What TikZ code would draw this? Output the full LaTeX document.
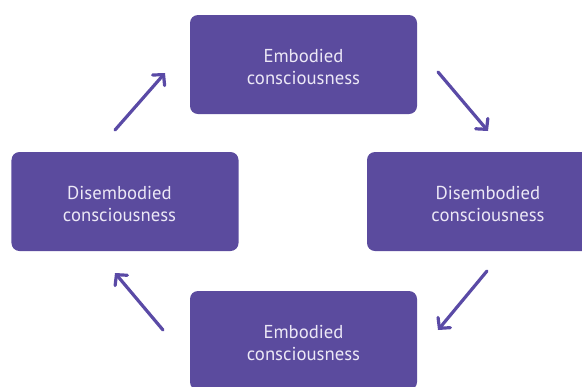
\documentclass[tikz,border=0pt]{standalone}
\usepackage{fontspec}
\setmainfont{PT Sans}
\usetikzlibrary{arrows.meta}
\definecolor{boxfill}{HTML}{5B4B9E}
\definecolor{arrowcol}{HTML}{5A4AA6}
\definecolor{boxtext}{HTML}{ECE8F6}
\tikzset{
  stagebox/.style={draw=none, fill=boxfill, rounded corners=8bp,
    minimum width=227bp, minimum height=99bp, inner sep=0pt},
  stagetext/.style={text=boxtext, align=center, font=\fontsize{18.7bp}{22.5bp}\selectfont, inner sep=0pt},
  cyclearrow/.style={draw=arrowcol, line width=3.2bp, line cap=round,
    -{Straight Barb[length=7.5bp,width=16bp,line cap=round]}}
}
\begin{document}
\begin{tikzpicture}[x=1bp, y=-1bp]
  \useasboundingbox (0,0) rectangle (582,386);
  \clip (0,0) rectangle (582,386);
  % the four stages of the cycle
  \node[stagebox] (top)    at (303.5,64.5)  {};
  \node[stagebox] (left)   at (125,201.5)   {};
  \node[stagebox] (right)  at (480.5,201.5) {};
  \node[stagebox] (bottom) at (303.5,340.5) {};
  \node[stagetext] (toptext)    at (303.5,67)  {Embodied\\consciousness};
  \node[stagetext] (lefttext)   at (119.5,204) {Disembodied\\consciousness};
  \node[stagetext] (righttext)  at (488,204)   {Disembodied\\consciousness};
  \node[stagetext] (bottomtext) at (303.5,343) {Embodied\\consciousness};
  % arrow end points between the stages
  \coordinate (ul0) at (115,130); \coordinate (ul1) at (165,73);
  \coordinate (ur0) at (438,72);  \coordinate (ur1) at (488,131);
  \coordinate (lr0) at (487,271); \coordinate (lr1) at (438,330);
  \coordinate (ll0) at (163,330); \coordinate (ll1) at (115,273);
  \draw[cyclearrow] (ul0) -- (ul1);
  \draw[cyclearrow] (ur0) -- (ur1);
  \draw[cyclearrow] (lr0) -- (lr1);
  \draw[cyclearrow] (ll0) -- (ll1);
\end{tikzpicture}
\end{document}
